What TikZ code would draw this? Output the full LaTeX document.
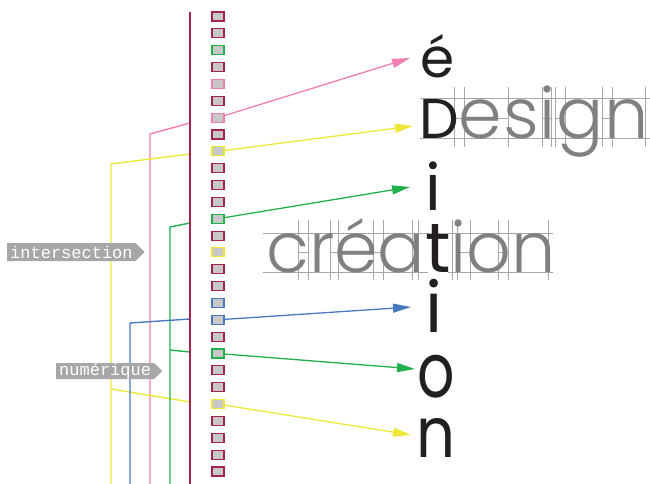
\documentclass[tikz,border=0pt]{standalone}
\usepackage{fontspec}
\setmainfont{Poppins}
\IfFontExistsTF{Poppins Light}{\newfontfamily\lightfam{Poppins Light}}{\newfontfamily\lightfam{Poppins}}
\newfontfamily\narrowo[FakeStretch=0.77]{Poppins}
\newfontfamily\narrown[FakeStretch=0.87]{Poppins}
\newfontfamily\lblfam{Liberation Mono}
\usetikzlibrary{arrows.meta,shapes.symbols}
\definecolor{cpink}{RGB}{239,127,176}
\definecolor{cyel}{RGB}{237,232,55}
\definecolor{cgrn}{RGB}{34,176,76}
\definecolor{cblu}{RGB}{75,121,191}
\definecolor{ccrim}{RGB}{166,36,80}
\definecolor{sqfill}{RGB}{200,200,200}
\definecolor{lblgray}{RGB}{167,167,169}
\definecolor{tgray}{RGB}{128,128,130}
\definecolor{tblack}{RGB}{35,31,32}
\definecolor{gridc}{RGB}{168,168,170}
\begin{document}
\begin{tikzpicture}[x=1pt,y=-1pt,
  sq/.style={draw, fill=sqfill, minimum width=12pt, minimum height=9pt, inner sep=0pt, line width=1.1pt},
  conn/.style={line width=1.4pt},
  arr/.style={line width=1.3pt, -{Triangle[length=18pt,width=9pt]}},
  gridl/.style={draw=gridc, line width=0.55pt},
  lbl/.style={signal, signal to=east, signal pointer angle=90, fill=lblgray, text=white,
    font=\lblfam\fontsize{17}{17}\selectfont, inner xsep=3pt, inner ysep=0pt, anchor=west},
  big/.style={inner sep=0pt, anchor=base, text=tblack},
  word/.style={inner sep=0pt, anchor=base west, text=tgray},
]
\useasboundingbox (0,0) rectangle (650,484);

% grid of "Design"
\foreach \x in {454,464,508,542,551,555,565,602,612,645}
  \draw[gridl] (\x,87) -- (\x,147);
\draw[gridl] (420,98) -- (650,98);
\draw[gridl] (420,138) -- (650,138);
\foreach \a/\b in {454/464,497/508,542/551,555/565,602/612}
  \draw[gridl] (\a,118) -- (\b,118);

% grid of "creation"
\foreach \x in {298,308,330,338,373,383,412,418,452,457,470,498,508,548}
  \draw[gridl] (\x,220) -- (\x,280);
\draw[gridl] (263,233) -- (428,233);
\draw[gridl] (263,272) -- (428,272);
\draw[gridl] (448,233) -- (553,233);
\draw[gridl] (448,272) -- (553,272);
\foreach \a/\b in {298/308,330/338,373/383,457/470,498/508}
  \draw[gridl] (\a,252) -- (\b,252);

% words
\node[word, font=\lightfam\fontsize{70}{70}\selectfont] (design) at (419,139)
  {\addfontfeatures{LetterSpace=1}{\color{tblack}\normalfont\fontsize{56}{56}\selectfont D}esign};
\node[word, font=\lightfam\fontsize{70}{70}\selectfont] (creation) at (266,272)
  {cr\'ea{\color{tblack}\normalfont\fontsize{70}{70}\selectfont t}ion};

% vertical letters
\node[big, font=\fontsize{55}{55}\selectfont] (le) at (438,78) {\'e};
\node[big, font=\fontsize{64}{64}\selectfont] (li1) at (433,210) {i};
\node[big, font=\fontsize{70}{70}\selectfont] (li2) at (434,332) {i};
\node[big, font=\narrowo\fontsize{76}{76}\selectfont] (lo) at (436,397) {o};
\node[big, font=\narrown\fontsize{70}{70}\selectfont] (ln) at (436,457) {n};

% squares
\foreach \i/\c in {0/ccrim,1/ccrim,2/cgrn,3/ccrim,4/cpink,5/ccrim,6/cpink,7/ccrim,8/cyel,9/ccrim,
  10/ccrim,11/ccrim,12/cgrn,13/ccrim,14/cyel,15/ccrim,16/ccrim,17/cblu,18/cblu,19/ccrim,
  20/cgrn,21/ccrim,22/ccrim,23/cyel,24/ccrim,25/ccrim,26/ccrim,27/ccrim}
  \node[sq, draw=\c] (s\i) at (218,{16.5+16.85*\i}) {};

% arrow targets
\coordinate (te) at (410,58);
\coordinate (tD) at (413,126);
\coordinate (ti1) at (410,187);
\coordinate (ti2) at (411,307);
\coordinate (to) at (415,369);
\coordinate (tn) at (411,435);
\draw[arr, cpink] (s6) -- (te);
\draw[arr, cyel] (s8) -- (tD);
\draw[arr, cgrn] (s12) -- (ti1);
\draw[arr, cblu] (s18) -- (ti2);
\draw[arr, cgrn] (s20) -- (to);
\draw[arr, cyel] (s23) -- (tn);

% left connectors
\coordinate (ctop) at (190,12);
\coordinate (cbot) at (190,484);
\coordinate (pp) at (190,123);
\coordinate (py) at (190,154);
\coordinate (pg) at (190,223);
\coordinate (pb) at (190,319);
\coordinate (pg2) at (190,352);
\coordinate (py2) at (190,402);
\coordinate (kp) at (150,134);
\coordinate (ky) at (111,164);
\coordinate (kg) at (170,227);
\coordinate (kb) at (130,323);
\coordinate (kg2) at (170,350);
\coordinate (ky2) at (111,389);
\draw[conn, cpink] (pp) -- (kp) -- (150,484);
\draw[conn, cyel] (py) -- (ky) -- (111,484);
\draw[conn, cyel] (ky2) -- (py2);
\draw[conn, cgrn] (pg) -- (kg) -- (170,484);
\draw[conn, cgrn] (kg2) -- (pg2);
\draw[conn, cblu] (pb) -- (kb) -- (130,484);
\draw[conn, ccrim, line width=1.6pt] (ctop) -- (cbot);

% labels
\node[lbl, minimum height=18pt] (inter) at (7,252) {intersection};
\node[lbl, minimum height=16pt] (num) at (56,371) {numérique};
\end{tikzpicture}
\end{document}
